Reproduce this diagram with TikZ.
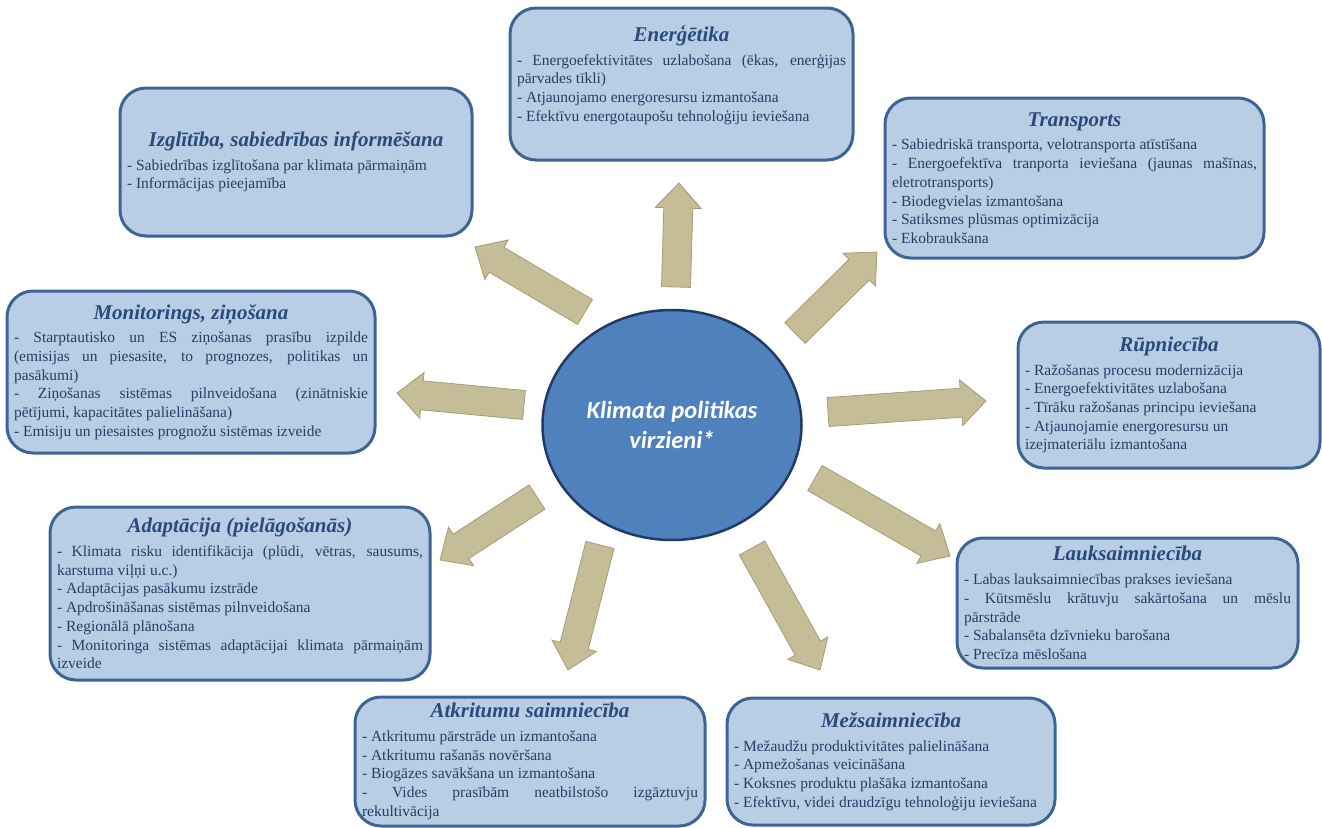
\documentclass[tikz,border=0pt]{standalone}
\usepackage{fontspec}
\setmainfont{Liberation Serif}
\newfontfamily\kpsans{Carlito}
\usetikzlibrary{calc,shapes.geometric}
\definecolor{kpcircle}{HTML}{4F81BD}
\definecolor{kpcircleline}{HTML}{1F3B66}
\definecolor{kpboxfill}{HTML}{B9CDE5}
\definecolor{kpboxline}{HTML}{3D6594}
\definecolor{kpkhaki}{HTML}{C4BD97}
\definecolor{kpkhakiline}{HTML}{A59D74}
\definecolor{kpink}{HTML}{243F66}
\definecolor{kphead}{HTML}{2A4A7C}
\tikzset{
  kp/.style={x=1pt, y=-1pt, font=\fontsize{15.5}{18.7}\selectfont, text=kpink},
  kpbox/.style={draw=kpboxline, fill=kpboxfill, rounded corners=26pt, line width=3pt,
    inner xsep=7pt, inner ysep=2pt, align=justify,
    execute at begin node={\parindent=0pt}},
  kpcirc/.style={ellipse, fill=kpcircle, draw=kpcircleline, line width=2.5pt,
    text=white, align=center, font={\fontsize{24.5}{30}\kpsans\bfseries\itshape}},
  kparr/.style={fill=kpkhaki, draw=kpkhakiline, line width=0.8pt, line join=miter},
}
\newcommand{\kptitle}[1]{{\centering\fontsize{21}{24}\selectfont\bfseries\itshape
  \color{kphead}#1\par}\vspace{5pt}}
% block arrow from #1 (tail) to #2 (tip)
\newcommand{\kparrow}[2]{%
  \draw[kparr] let \p1=($(#2)-(#1)$), \n1={atan2(\y1,\x1)}, \n2={veclen(\x1,\y1)} in
    ([shift={(#1)},rotate=\n1]0,14.5) -- ([shift={(#1)},rotate=\n1]{\n2-25},14.5)
    -- ([shift={(#1)},rotate=\n1]{\n2-25},23) -- ([shift={(#1)},rotate=\n1]\n2,0)
    -- ([shift={(#1)},rotate=\n1]{\n2-25},-23) -- ([shift={(#1)},rotate=\n1]{\n2-25},-14.5)
    -- ([shift={(#1)},rotate=\n1]0,-14.5) -- cycle;}

\begin{document}
\begin{tikzpicture}[kp]
  \useasboundingbox (0,0) rectangle (1322,827);
  \node[kpcirc, minimum width=259, minimum height=230] (circ) at (672,425)
    {Klimata politikas\\virzieni*};
  \node[kpbox, minimum width=343, minimum height=152, text width=329] (ene) at (681.5,84) {%
    \kptitle{Enerģētika}
    - Energoefektivitātes uzlabošana (ēkas, enerģijas\linebreak pārvades tīkli)\\
    - Atjaunojamo energoresursu izmantošana\\
    - Efektīvu energotaupošu tehnoloģiju ieviešana\par\vspace*{18pt}};
  \node[kpbox, minimum width=379, minimum height=160, text width=365] (tra) at (1074.5,178) {%
    \kptitle{Transports}
    - Sabiedriskā transporta, velotransporta atīstīšana\\
    - Energoefektīva tranporta ieviešana (jaunas mašīnas,\linebreak eletrotransports)\\
    - Biodegvielas izmantošana\\
    - Satiksmes plūsmas optimizācija\\
    - Ekobraukšana};
  \node[kpbox, minimum width=352, minimum height=148, text width=338] (izg) at (296,162) {%
    \kptitle{Izglītība, sabiedrības informēšana}
    - Sabiedrības izglītošana par klimata pārmaiņām\\
    - Informācijas pieejamība};
  \node[kpbox, minimum width=368, minimum height=162, text width=354] (mon) at (191,372) {%
    \kptitle{Monitorings, ziņošana}
    - Starptautisko un ES ziņošanas prasību izpilde\linebreak (emisijas un piesasite, to prognozes, politikas un\linebreak pasākumi)\\
    - Ziņošanas sistēmas pilnveidošana (zinātniskie\linebreak pētījumi, kapacitātes palielināšana)\\
    - Emisiju un piesaistes prognožu sistēmas izveide};
  \node[kpbox, minimum width=302, minimum height=146, text width=288] (rup) at (1169,395) {%
    \kptitle{Rūpniecība}
    - Ražošanas procesu modernizācija\\
    - Energoefektivitātes uzlabošana\\
    - Tīrāku ražošanas principu ieviešana\\
    - Atjaunojamie energoresursu un\\izejmateriālu izmantošana};
  \node[kpbox, minimum width=341, minimum height=130, text width=327] (lau) at (1127.5,603) {%
    \kptitle{Lauksaimniecība}
    - Labas lauksaimniecības prakses ieviešana\\
    - Kūtsmēslu krātuvju sakārtošana un mēslu\linebreak pārstrāde\\
    - Sabalansēta dzīvnieku barošana\\
    - Precīza mēslošana};
  \node[kpbox, minimum width=328, minimum height=127, text width=314] (mez) at (891,761.5) {%
    \kptitle{Mežsaimniecība}
    - Mežaudžu produktivitātes palielināšana\\
    - Apmežošanas veicināšana\\
    - Koksnes produktu plašāka izmantošana\\
    - Efektīvu, videi draudzīgu tehnoloģiju ieviešana};
  \node[kpbox, minimum width=350, minimum height=129, text width=336] (atk) at (530,761.5) {%
    \kptitle{Atkritumu saimniecība}
    - Atkritumu pārstrāde un izmantošana\\
    - Atkritumu rašanās novēršana\\
    - Biogāzes savākšana un izmantošana\\
    - Vides prasībām neatbilstošo izgāztuvju\linebreak rekultivācija};
  \node[kpbox, minimum width=380, minimum height=173, text width=366] (ada) at (240,593.5) {%
    \kptitle{Adaptācija (pielāgošanās)}
    - Klimata risku identifikācija (plūdi, vētras, sausums,\linebreak karstuma viļņi u.c.)\\
    - Adaptācijas pasākumu izstrāde\\
    - Apdrošināšanas sistēmas pilnveidošana\\
    - Regionālā plānošana\\
    - Monitoringa sistēmas adaptācijai klimata pārmaiņām\linebreak izveide};
  % arrow ends
  \coordinate (ene0) at (676,287); \coordinate (ene1) at (679,183);
  \coordinate (izg0) at (585,312); \coordinate (izg1) at (475,247);
  \coordinate (tra0) at (795,333); \coordinate (tra1) at (877,252);
  \coordinate (mon0) at (524,405); \coordinate (mon1) at (397,393);
  \coordinate (rup0) at (828,412); \coordinate (rup1) at (986,401);
  \coordinate (lau0) at (815,478); \coordinate (lau1) at (950,556);
  \coordinate (mez0) at (752,548); \coordinate (mez1) at (820,670);
  \coordinate (atk0) at (600,545); \coordinate (atk1) at (568,670);
  \coordinate (ada0) at (537,497); \coordinate (ada1) at (440,560);
  \foreach \k in {ene,izg,tra,mon,rup,lau,mez,atk,ada}
    {\kparrow{\k0}{\k1}}
\end{tikzpicture}
\end{document}
